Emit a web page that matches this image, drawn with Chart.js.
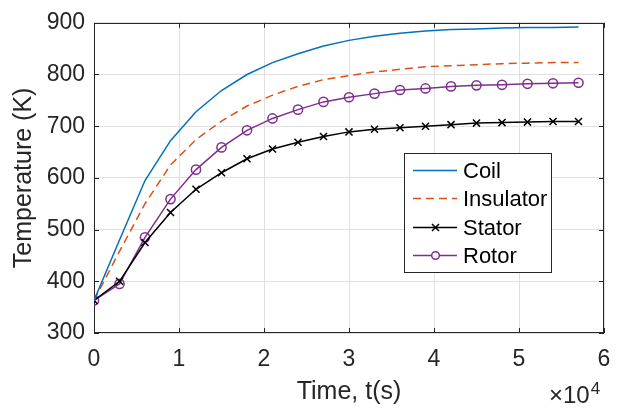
<!DOCTYPE html>
<html>
<head>
<meta charset="utf-8">
<script src="https://cdn.jsdelivr.net/npm/chart.js@4.4.1/dist/chart.umd.min.js"></script>
<style>
  html, body { margin: 0; padding: 0; background: #fff; }
  canvas { display: block; }
</style>
</head>
<body>
<canvas id="tempChart" width="618" height="409"></canvas>
<script>
// tiempo en segundos y temperaturas (K)
const timeSec = [0, 3000, 6000, 9000, 12000, 15000, 18000, 21000, 24000, 27000,
                 30000, 33000, 36000, 39000, 42000, 45000, 48000, 51000, 54000, 57000];
const coilK      = [363, 480, 595, 672, 728, 769, 800, 823, 840, 855, 866, 874, 880, 884, 887, 888, 890, 891, 891, 892];
const insulatorK = [363, 458, 550, 625, 674, 710, 739, 760, 777, 790, 798, 805, 810, 815, 817, 819, 821, 822, 823, 823];
const statorK    = [363, 400, 475, 533, 578, 610, 637, 656, 669, 680, 689, 694, 697, 700, 703, 706, 707, 708, 709, 709];
const rotorK     = [363, 395, 485, 559, 616, 659, 692, 715, 732, 747, 756, 763, 770, 773, 777, 779, 780, 782, 783, 784];
const seriesNames = ['Coil', 'Insulator', 'Stator', 'Rotor'];
const xTickLabels = ['0', '1', '2', '3', '4', '5', '6'];

const FONT = '"Liberation Sans", Arial, Helvetica, sans-serif';
const AX = '#262626';

const toPoints = vals => vals.map((v, i) => ({ x: timeSec[i], y: v }));

// caja de ejes con marcas hacia dentro (estilo MATLAB)
const axesBox = {
    id: 'axesBox',
    beforeDatasetsDraw(chart) {
        const { ctx, chartArea: a, scales: { x, y } } = chart;
        ctx.save();
        ctx.strokeStyle = AX;
        ctx.lineWidth = 1;
        ctx.beginPath();
        x.ticks.forEach(t => {
            const px = Math.round(x.getPixelForValue(t.value)) + 0.5;
            ctx.moveTo(px, a.bottom); ctx.lineTo(px, a.bottom - 5);
            ctx.moveTo(px, a.top); ctx.lineTo(px, a.top + 5);
        });
        y.ticks.forEach(t => {
            const py = Math.round(y.getPixelForValue(t.value)) + 0.5;
            ctx.moveTo(a.left, py); ctx.lineTo(a.left + 5, py);
            ctx.moveTo(a.right, py); ctx.lineTo(a.right - 5, py);
        });
        ctx.stroke();
        ctx.strokeRect(Math.round(a.left) + 0.5, Math.round(a.top) + 0.5,
                       Math.round(a.width) - 1, Math.round(a.height) - 1);
        ctx.restore();
    },
    afterDraw(chart) {
        // factor de escala x10^4
        const { ctx, chartArea: a } = chart;
        ctx.save();
        ctx.fillStyle = AX;
        ctx.textBaseline = 'alphabetic';
        ctx.textAlign = 'left';
        ctx.font = '24px ' + FONT;
        const base = '\u00d710';
        const w = ctx.measureText(base).width;
        const x0 = a.right - 55;
        ctx.fillText(base, x0, 403);
        ctx.font = '17px ' + FONT;
        ctx.fillText('4', x0 + w + 1, 394);
        ctx.restore();
    }
};

// leyenda dentro del área del gráfico
const boxLegend = {
    id: 'boxLegend',
    afterDraw(chart) {
        const ctx = chart.ctx;
        const left = 404, top = 153, w = 148, h = 120;
        ctx.save();
        ctx.fillStyle = '#fff';
        ctx.fillRect(left, top, w, h);
        ctx.strokeStyle = AX;
        ctx.lineWidth = 1;
        ctx.strokeRect(left + 0.5, top + 0.5, w - 1, h - 1);
        chart.data.datasets.forEach((ds, i) => {
            const yy = Math.round(top + 17 + i * 28.3) + 0.5;
            ctx.strokeStyle = ds.borderColor;
            ctx.lineWidth = ds.borderWidth;
            ctx.setLineDash(ds.borderDash || []);
            ctx.beginPath();
            ctx.moveTo(413, yy); ctx.lineTo(457, yy);
            ctx.stroke();
            ctx.setLineDash([]);
            if (ds.pointStyle === 'crossRot') {
                ctx.beginPath();
                ctx.moveTo(432, yy - 3.5); ctx.lineTo(439, yy + 3.5);
                ctx.moveTo(439, yy - 3.5); ctx.lineTo(432, yy + 3.5);
                ctx.stroke();
            } else if (ds.pointRadius > 0) {
                ctx.fillStyle = '#fff';
                ctx.beginPath();
                ctx.arc(435.5, yy, 3.8, 0, Math.PI * 2);
                ctx.fill();
                ctx.stroke();
            }
            ctx.fillStyle = '#000';
            ctx.font = '22px ' + FONT;
            ctx.textBaseline = 'middle';
            ctx.fillText(ds.label, 463, yy + 1);
        });
        ctx.restore();
    }
};

const ctx = document.getElementById('tempChart').getContext('2d');
new Chart(ctx, {
    type: 'line',
    data: {
        datasets: [
            {
                label: seriesNames[0], data: toPoints(coilK),
                borderColor: '#0072BD', borderWidth: 1.5, pointRadius: 0
            },
            {
                label: seriesNames[1], data: toPoints(insulatorK),
                borderColor: '#D95319', borderWidth: 1.5, borderDash: [8, 5], pointRadius: 0
            },
            {
                label: seriesNames[2], data: toPoints(statorK),
                borderColor: '#000000', borderWidth: 1.5,
                pointStyle: 'crossRot', pointRadius: 5, pointBorderWidth: 1.5,
                pointBorderColor: '#000000'
            },
            {
                label: seriesNames[3], data: toPoints(rotorK),
                borderColor: '#7E2F8E', borderWidth: 1.5,
                pointStyle: 'circle', pointRadius: 4.6, pointBorderWidth: 1.5,
                pointBorderColor: '#7E2F8E', pointBackgroundColor: 'rgba(0,0,0,0)'
            }
        ]
    },
    options: {
        responsive: false,
        animation: false,
        events: [],
        layout: { padding: { top: 17, right: 14, left: 0, bottom: 0 } },
        elements: { line: { tension: 0 } },
        plugins: {
            legend: { display: false },
            tooltip: { enabled: false }
        },
        scales: {
            x: {
                type: 'linear',
                min: 0, max: 60000,
                afterFit: s => { s.height = 76; },
                // marca invisible: solo desplaza las etiquetas hacia abajo
                grid: { color: '#e0e0e0', drawTicks: true, tickLength: 9, tickColor: 'rgba(0,0,0,0)' },
                border: { display: false },
                ticks: {
                    stepSize: 10000,
                    padding: 4,
                    color: AX,
                    font: { family: FONT, size: 23 },
                    maxRotation: 0,
                    callback: v => xTickLabels[Math.round(v / 10000)]
                },
                title: {
                    display: true, text: 'Time, t(s)', color: AX,
                    font: { family: FONT, size: 25 },
                    padding: { top: 0, bottom: 2 }
                }
            },
            y: {
                min: 300, max: 900,
                afterFit: s => { s.width = 94; },
                grid: { color: '#e0e0e0', drawTicks: false },
                border: { display: false },
                ticks: {
                    stepSize: 100,
                    padding: 9,
                    color: AX,
                    font: { family: FONT, size: 23 }
                },
                title: {
                    display: true, text: 'Temperature (K)', color: AX,
                    font: { family: FONT, size: 25 },
                    padding: { top: 9, bottom: 0 }
                }
            }
        }
    },
    plugins: [axesBox, boxLegend]
});
</script>
</body>
</html>
